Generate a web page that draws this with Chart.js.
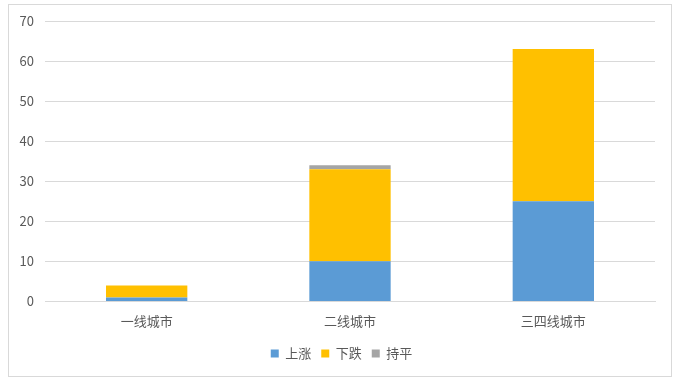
<!DOCTYPE html>
<html><head><meta charset="utf-8">
<script src="https://cdn.jsdelivr.net/npm/chart.js@4/dist/chart.umd.min.js"></script>
<style>html,body{margin:0;padding:0;background:#fff}#wrap{width:678px;height:384px;position:relative}</style>
</head><body><div id="wrap"><canvas id="c" width="678" height="384"></canvas></div>
<script>
const categories = ['一线城市', '二线城市', '三四线城市'];
const rise = [1, 10, 25];
const fall = [3, 23, 38];
const flat = [0, 1, 0];
const yTicks = [0, 10, 20, 30, 40, 50, 60, 70];

const borderPlugin = {
  id: 'outerBorder',
  beforeDraw(chart) {
    const ctx = chart.ctx;
    ctx.save();
    ctx.fillStyle = '#fff';
    ctx.fillRect(0, 0, chart.width, chart.height);
    ctx.strokeStyle = '#d9d9d9';
    ctx.lineWidth = 1;
    ctx.strokeRect(8.5, 4.5, 663, 372);
    ctx.restore();
  },
  afterLayout(chart) {
    if (chart.legend) { chart.legend.left = 28; }
  }
};

new Chart(document.getElementById('c'), {
  type: 'bar',
  data: {
    labels: categories,
    datasets: [
      { label: '上涨', data: rise, backgroundColor: '#5B9BD5' },
      { label: '下跌', data: fall, backgroundColor: '#FFC000' },
      { label: '持平', data: flat, backgroundColor: '#A5A5A5' }
    ]
  },
  options: {
    responsive: false,
    animation: false,
    devicePixelRatio: 1,
    datasets: { bar: { categoryPercentage: 1, barPercentage: 0.4 } },
    layout: { padding: { top: 21, right: 23, left: 0, bottom: 14 } },
    font: { family: '"Noto Sans CJK SC", sans-serif' },
    scales: {
      x: {
        stacked: true,
        grid: { display: false },
        border: { color: '#d9d9d9' },
        afterFit(axis) { axis.height += 4; },
        ticks: { color: '#595959', font: { size: 13, family: '"Noto Sans CJK SC", sans-serif' }, padding: 4 }
      },
      y: {
        stacked: true,
        min: 0, max: 70,
        afterBuildTicks(axis) { axis.ticks = yTicks.map(v => ({ value: v })); },
        afterFit(axis) { axis.width = 45; },
        grid: { color: '#d9d9d9', drawTicks: false },
        border: { display: false },
        ticks: { color: '#595959', padding: 11, font: { size: 13, family: '"Noto Sans CJK SC", sans-serif' } }
      }
    },
    plugins: {
      legend: {
        position: 'bottom',
        labels: { color: '#595959', boxWidth: 8, boxHeight: 8, padding: 10, font: { size: 13, family: '"Noto Sans CJK SC", sans-serif' } }
      },
      tooltip: { enabled: false }
    }
  },
  plugins: [borderPlugin]
});
</script></body></html>
